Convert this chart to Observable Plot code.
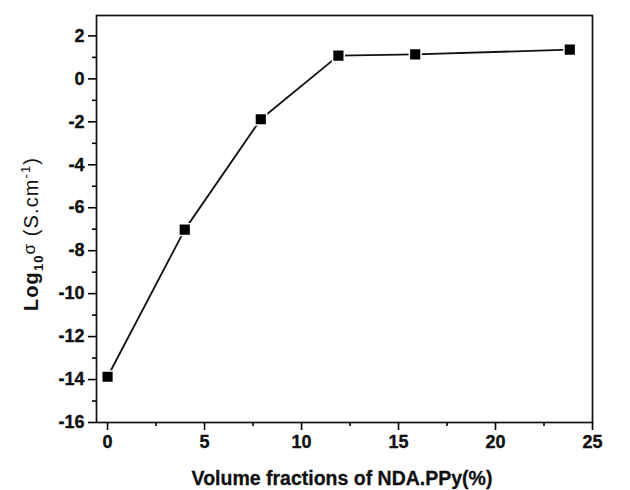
<!DOCTYPE html>
<html>
<head>
<meta charset="utf-8">
<script src="https://cdn.jsdelivr.net/npm/d3@7"></script>
<script src="https://cdn.jsdelivr.net/npm/@observablehq/plot@0.6"></script>
<style>
  html, body { margin: 0; padding: 0; background: #fff; }
  #chart { width: 630px; height: 490px; }
</style>
</head>
<body>
<div id="chart"></div>
<script>
const volumeFraction = [0, 3.98, 7.9, 11.9, 15.86, 23.83];
const logSigma = [-13.87, -7.02, -1.88, 1.08, 1.14, 1.36];
const xMajorTicks = [0, 5, 10, 15, 20, 25];
const xMinorTicks = [2.5, 7.5, 12.5, 17.5, 22.5];
const yMajorTicks = [-16, -14, -12, -10, -8, -6, -4, -2, 0, 2];
const yMinorTicks = [-15, -13, -11, -9, -7, -5, -3, -1, 1];
const xTitle = "Volume fractions of NDA.PPy(%)";

const data = volumeFraction.map((v, i) => ({x: v, y: logSigma[i]}));
const font = "Liberation Sans, Arial, sans-serif";
const fmt = d => String(d);

const plot = Plot.plot({
  width: 630,
  height: 490,
  marginLeft: 96,
  marginRight: 38,
  marginTop: 15,
  marginBottom: 68,
  style: {fontFamily: font, fontSize: "18px", fontWeight: "bold", background: "#fff"},
  x: {domain: [-0.57, 25], label: null},
  y: {domain: [-16, 2.95], label: null},
  marks: [
    Plot.frame({stroke: "#111", strokeWidth: 1.7}),
    Plot.axisX({ticks: xMajorTicks, tickSize: 8, tickPadding: 5, tickFormat: fmt, strokeWidth: 1.6, label: null}),
    Plot.axisX({ticks: xMinorTicks, tickSize: 4, tickFormat: () => "", strokeWidth: 1.6, label: null}),
    Plot.axisY({ticks: yMajorTicks, tickSize: 8, tickPadding: 4, tickFormat: fmt, strokeWidth: 1.6, label: null}),
    Plot.axisY({ticks: yMinorTicks, tickSize: 4, tickFormat: () => "", strokeWidth: 1.6, label: null}),
    Plot.line(data, {x: "x", y: "y", stroke: "#111", strokeWidth: 1.8}),
    Plot.dot(data, {x: "x", y: "y", symbol: "square", r: 6.6, fill: "#000", stroke: "#fff", strokeWidth: 1.5})
  ]
});

const svg = d3.select(plot);
svg.selectAll("text")
  .style("font-size", "18px")
  .style("font-weight", "bold")
  .style("fill", "#111")
  .style("stroke", "#111")
  .style("stroke-width", "0.35px");

svg.append("text")
  .attr("x", 342).attr("y", 485)
  .attr("text-anchor", "middle")
  .style("font-size", "19.5px").style("font-weight", "bold").style("fill", "#111")
  .style("stroke", "#111").style("stroke-width", "0.3px")
  .text(xTitle);

const yl = svg.append("text")
  .attr("transform", "translate(38,234) rotate(-90)")
  .attr("text-anchor", "middle")
  .style("font-size", "20px").style("font-weight", "bold")
  .style("letter-spacing", "1.1px").style("fill", "#111");
yl.append("tspan").text("Log");
yl.append("tspan").attr("dy", 5).style("font-size", "13px").text("10");
yl.append("tspan").attr("dy", -8).style("font-weight", "normal").style("font-size", "17px").text("σ");
yl.append("tspan").attr("dy", 3).style("font-weight", "normal").text(" (S.cm");
yl.append("tspan").attr("dy", -8).style("font-size", "13px").style("font-weight", "normal").text("-1");
yl.append("tspan").attr("dy", 8).style("font-weight", "normal").text(")");

document.getElementById("chart").appendChild(plot);
</script>
</body>
</html>
